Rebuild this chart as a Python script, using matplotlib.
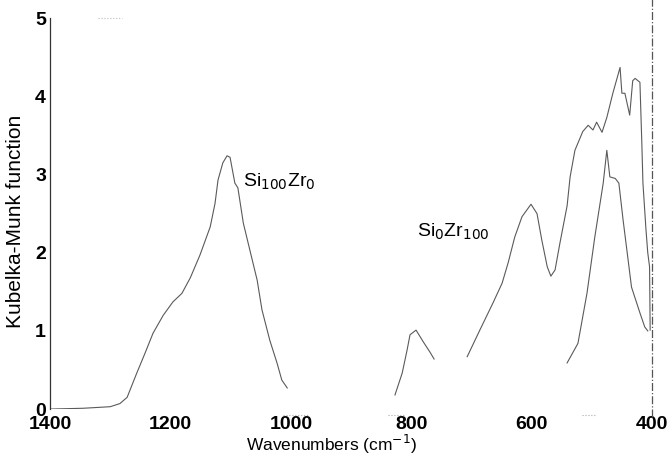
import matplotlib
matplotlib.use("Agg")
import matplotlib.pyplot as plt

# Si100Zr0 spectrum, three bands (wavenumber, Kubelka-Munk)
si100_wn_a = [1400, 1345, 1300, 1284, 1272, 1256, 1242, 1229, 1212, 1196, 1181, 1167, 1151,
              1134, 1126, 1121, 1113, 1106, 1101, 1093, 1088, 1079, 1068, 1056, 1048, 1035,
              1023, 1015, 1006]
si100_km_a = [0.0, 0.01, 0.03, 0.07, 0.15, 0.46, 0.72, 0.97, 1.2, 1.37, 1.48, 1.68, 1.97,
              2.33, 2.63, 2.93, 3.15, 3.24, 3.22, 2.89, 2.83, 2.38, 2.03, 1.65, 1.27, 0.88,
              0.59, 0.37, 0.27]

si100_wn_b = [827, 815, 807, 802, 792, 780, 769, 762]
si100_km_b = [0.18, 0.46, 0.75, 0.95, 1.01, 0.86, 0.73, 0.64]

si100_wn_c = [541, 523, 508, 495, 481, 475, 470, 461, 455, 448, 434, 420, 412, 407]
si100_km_c = [0.59, 0.84, 1.48, 2.2, 2.89, 3.31, 2.97, 2.95, 2.89, 2.42, 1.56, 1.23, 1.05, 1.0]

# Si0Zr100 spectrum
zr100_wn = [707, 686, 664, 649, 639, 628, 616, 601, 591, 583, 574, 568, 561, 553, 541, 536,
            528, 515, 506, 498, 492, 483, 475, 465, 453, 450, 445, 437, 432, 428, 420, 417,
            415, 410, 407, 404, 403]
zr100_km = [0.67, 1.01, 1.36, 1.61, 1.87, 2.2, 2.46, 2.62, 2.5, 2.16, 1.82, 1.7, 1.78,
            2.12, 2.6, 2.97, 3.31, 3.55, 3.63, 3.57, 3.67, 3.54, 3.73, 4.04, 4.37, 4.04,
            4.04, 3.76, 4.2, 4.23, 4.18, 3.44, 2.89, 2.3, 2.0, 1.82, 1.01]

x_ticks = [1400, 1200, 1000, 800, 600, 400]
y_ticks = [0, 1, 2, 3, 4, 5]

plt.rcParams['font.family'] = ['Liberation Sans', 'DejaVu Sans']

fig = plt.figure(figsize=(6.68, 4.55), dpi=100)
ax = fig.add_axes([0.075, 0.101, 0.901, 0.859])

line_kw = dict(color='#5a5a5a', lw=0.8)
ax.plot(si100_wn_a, si100_km_a, **line_kw)
ax.plot(si100_wn_b, si100_km_b, **line_kw)
ax.plot(si100_wn_c, si100_km_c, **line_kw)
ax.plot(zr100_wn, zr100_km, **line_kw)

# faint dotted baseline
ax.plot([1400, 1085], [-0.03, -0.03], color='#999999', lw=0.8, ls=':')
ax.plot([1013, 970], [-0.08, -0.08], color='#aaaaaa', lw=0.8, ls=':', clip_on=False)
ax.plot([838, 810], [-0.08, -0.08], color='#aaaaaa', lw=0.8, ls=':', clip_on=False)
ax.plot([516, 493], [-0.08, -0.08], color='#aaaaaa', lw=0.8, ls=':', clip_on=False)
ax.plot([1320, 1280], [5.0, 5.0], color='#bbbbbb', lw=0.8, ls=':', clip_on=False)

# dash-dot vertical at 400
ax.plot([400, 400], [-0.1, 5.25], color='#555555', lw=0.9, ls='-.', clip_on=False)

ax.set_xlim(1400, 400)
ax.set_ylim(0, 5)
ax.set_xticks(x_ticks)
ax.set_yticks(y_ticks)
ax.tick_params(axis='both', length=0, labelsize=14)
ax.tick_params(axis='x', pad=5)
ax.tick_params(axis='y', pad=3)
for lab in ax.get_xticklabels() + ax.get_yticklabels():
    lab.set_fontweight('bold')

for s in ['top', 'right', 'bottom']:
    ax.spines[s].set_visible(False)
ax.spines['left'].set_color('#333333')
ax.spines['left'].set_linewidth(0.9)

ax.set_xlabel('Wavenumbers (cm$^{-1}$)', fontsize=12.5, va='center')
ax.xaxis.set_label_coords(0.468, -0.09)
ax.set_ylabel('Kubelka-Munk function', fontsize=15, va='center')
ax.yaxis.set_label_coords(-0.058, 0.48)

ax.text(1080, 2.84, 'Si$_{100}$Zr$_0$', fontsize=14)
ax.text(790, 2.2, 'Si$_0$Zr$_{100}$', fontsize=14)

fig.savefig('out.png', dpi=100)
